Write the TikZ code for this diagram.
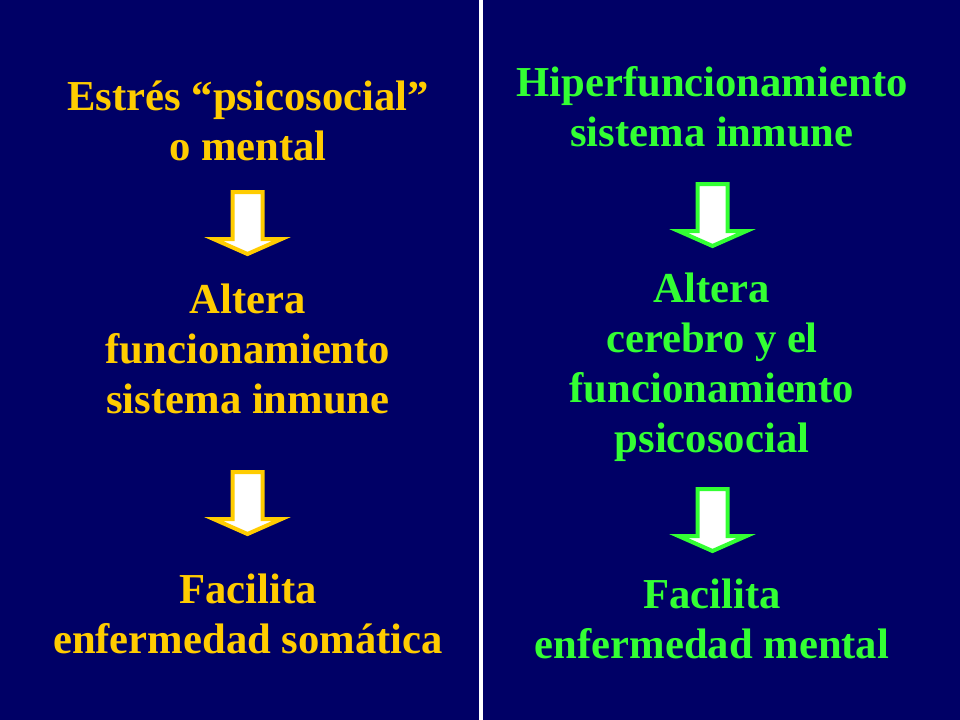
\documentclass[tikz,border=0pt]{standalone}
\usepackage{fontspec}
\setmainfont{Liberation Serif}

\definecolor{slidebg}{RGB}{0,0,102}
\definecolor{gold}{RGB}{255,204,0}
\definecolor{lime}{RGB}{51,255,51}

\tikzset{
    slidetext/.style={font=\fontsize{32bp}{37.5bp}\selectfont\bfseries, align=center, anchor=base},
    downarr/.pic={
        \filldraw[fill=white, line width=3bp, line join=miter]
            (-15,0) -- (15,0) -- (15,47) -- (34,47) -- (0,62) -- (-34,47) -- (-15,47) -- cycle;
    }
}

\begin{document}
\begin{tikzpicture}[x=0.75bp, y=-0.75bp]
    % Slide background
    \fill[slidebg] (0,0) rectangle (960,720);
    \useasboundingbox (0,0) rectangle (960,720);

    % Divider between the two columns
    \draw[white, line width=2.5bp] (481,0) -- (481,720);

    % Left column (base = last line)
    \node[slidetext, gold] (stressL) at (248,160) {Estrés “psicosocial”\\o mental};
    \node[slidetext, gold] (alteraL) at (248,413) {Altera\\funcionamiento\\sistema inmune};
    \node[slidetext, gold] (facilitaL) at (248,653) {Facilita\\enfermedad somática};
    \pic[gold] at (247.5,192) {downarr};
    \pic[gold] at (247.5,472) {downarr};

    % Right column
    \node[slidetext, lime] (hiperR) at (712,146) {Hiperfuncionamiento\\sistema inmune};
    \node[slidetext, lime] (alteraR) at (712,452) {Altera\\cerebro y el\\funcionamiento\\psicosocial};
    \node[slidetext, lime] (facilitaR) at (712,658) {Facilita\\enfermedad mental};
    \pic[lime] at (712.5,184) {downarr};
    \pic[lime] at (712.5,489) {downarr};
\end{tikzpicture}
\end{document}
